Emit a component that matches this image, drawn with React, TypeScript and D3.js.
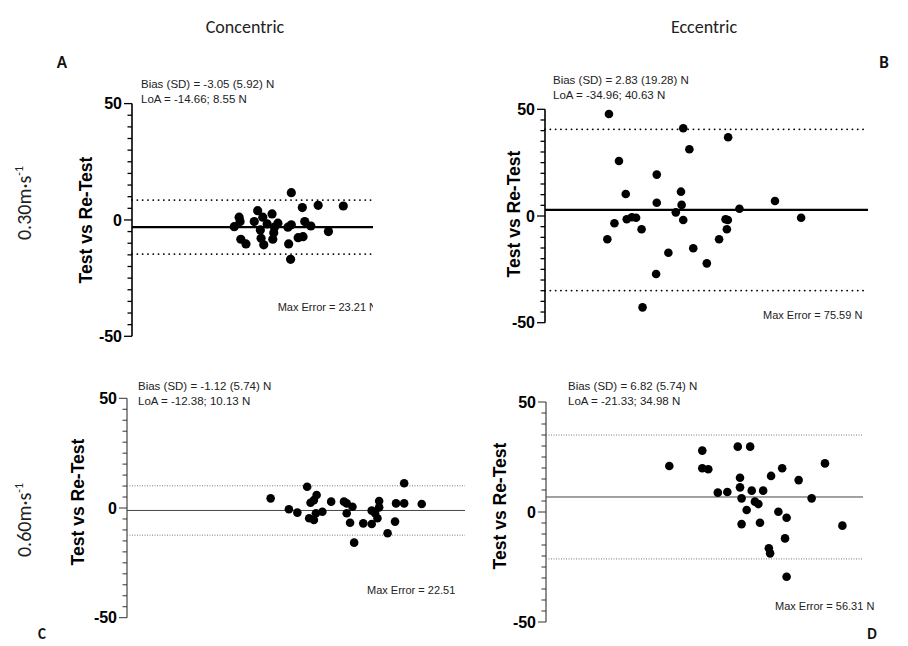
import React from "react";
import * as d3 from "d3";

// ---- Data (x: relative position 0-100 along the hidden x axis, y: difference in N) ----
const panelIds = ["A", "B", "C", "D"];
const biasValues = [-3.05, 2.83, -1.12, 6.82];
const loaLower = [-14.66, -34.96, -12.38, -21.33];
const loaUpper = [8.55, 40.63, 10.13, 34.98];
const biasTexts = [
  "Bias (SD) = -3.05 (5.92) N",
  "Bias (SD) = 2.83 (19.28) N",
  "Bias (SD) = -1.12 (5.74) N",
  "Bias (SD) = 6.82 (5.74) N",
];
const loaTexts = [
  "LoA = -14.66; 8.55 N",
  "LoA = -34.96; 40.63 N",
  "LoA = -12.38; 10.13 N",
  "LoA = -21.33; 34.98 N",
];
const maxErrorTexts = [
  "Max Error = 23.21 N",
  "Max Error = 75.59 N",
  "Max Error = 22.51",
  "Max Error = 56.31 N",
];
const yTickValues = [-50, 0, 50];
const columnTitles = ["Concentric", "Eccentric"];
const rowTitles = ["0.30m·s", "0.60m·s"];
const yAxisTitle = "Test vs Re-Test";

const pointsA: [number, number][] = [
  [65.3, 11.7], [69.8, 5.3], [76.3, 6.3], [86.6, 6.0], [43.9, 1.2], [51.5, 4.0],
  [57.4, 2.6], [53.6, 1.2], [50.1, -0.7], [41.9, -2.9], [44.3, -0.7], [59.8, -1.4],
  [58.4, -3.1], [65.3, -2.1], [63.9, -3.1], [70.8, -0.7], [73.3, -2.6], [80.5, -5.0],
  [52.6, -4.3], [58.1, -5.5], [52.9, -7.9], [57.7, -8.3], [70.1, -7.2], [68.1, -7.6],
  [44.6, -8.3], [46.7, -10.3], [54.0, -10.7], [64.2, -10.3], [65.0, -16.9], [55.4, -1.7],
];
const pointsB: [number, number][] = [
  [19.8, 47.8], [42.8, 41.1], [56.7, 36.9], [44.7, 31.3], [22.9, 25.8], [34.6, 19.4],
  [25.0, 10.3], [42.1, 11.4], [34.6, 6.2], [42.3, 5.2], [71.2, 7.0], [60.2, 3.4],
  [40.5, 1.7], [25.3, -1.5], [26.9, -0.6], [28.2, -0.8], [21.5, -3.4], [19.3, -10.9],
  [29.9, -6.2], [42.8, -1.9], [38.2, -17.2], [34.4, -27.2], [30.2, -42.8], [45.9, -15.1],
  [50.1, -22.2], [53.9, -10.9], [56.3, -6.2], [55.9, -1.5], [56.6, -1.9], [79.3, -0.8],
];
const pointsC: [number, number][] = [
  [42.5, 4.4], [47.9, -0.6], [50.4, -2.1], [53.3, 9.7], [56.1, 5.9], [55.3, 3.6],
  [54.3, 2.4], [53.9, -4.7], [55.3, -5.5], [55.9, -2.4], [57.8, -1.7], [60.4, 2.9],
  [64.2, 2.9], [65.0, 2.1], [66.7, 0.6], [65.0, -2.4], [66.0, -6.7], [67.2, -15.8],
  [69.9, -7.0], [72.4, -7.3], [72.4, -1.2], [73.4, -2.4], [74.1, -4.7], [74.6, 3.2],
  [74.6, 0.3], [77.1, -11.5], [79.3, -6.2], [79.6, 2.1], [82.0, 2.1], [82.0, 11.3],
  [87.2, 1.8],
];
const pointsD: [number, number][] = [
  [38.9, 20.9], [49.3, 27.9], [49.3, 19.9], [51.2, 19.4], [60.5, 29.7], [64.4, 29.7],
  [61.2, 15.6], [61.2, 11.2], [54.2, 8.8], [57.2, 9.1], [64.9, 9.7], [68.5, 9.7],
  [61.7, 6.2], [65.9, 4.7], [67.0, 3.6], [71.0, 16.4], [74.5, 19.9], [79.7, 14.5],
  [88.0, 22.1], [83.8, 6.2], [63.3, 0.9], [73.3, 0.1], [75.9, -2.6], [61.7, -5.5],
  [67.5, -4.9], [93.5, -6.2], [75.4, -12.0], [70.3, -16.5], [70.7, -18.8], [75.9, -29.4],
];
const allPoints = [pointsA, pointsB, pointsC, pointsD];

// ---- Layout ----
type Layout = {
  axisX: number; right: number; yTop: number; yBot: number; bold: boolean;
  textX: number; textY: number; maxX: number; maxY: number; maxAnchor: string;
  titleX: number; titleY: number; clipRight: number; r: number;
};
const layouts: Layout[] = [
  { axisX: 132, right: 376, yTop: 103.6, yBot: 336.3, bold: true, textX: 141, textY: 88,
    maxX: 377, maxY: 311, maxAnchor: "end", titleX: 86, titleY: 220, clipRight: 373, r: 4.6 },
  { axisX: 545, right: 868, yTop: 109.3, yBot: 322.7, bold: true, textX: 553, textY: 84,
    maxX: 763, maxY: 319, maxAnchor: "start", titleX: 514, titleY: 214, clipRight: 900, r: 4.3 },
  { axisX: 127, right: 465, yTop: 398.3, yBot: 617.7, bold: false, textX: 138, textY: 390,
    maxX: 367, maxY: 594, maxAnchor: "start", titleX: 78, titleY: 502, clipRight: 900, r: 4.3 },
  { axisX: 546, right: 863, yTop: 402, yBot: 622, bold: false, textX: 568, textY: 390,
    maxX: 775, maxY: 610, maxAnchor: "start", titleX: 500, titleY: 506, clipRight: 900, r: 4.3 },
];

const sans = "'Liberation Sans', Arial, sans-serif";
const titleFont = "Carlito, 'Noto Sans', 'Open Sans', sans-serif";

function Panel({ idx }: { idx: number }) {
  const L = layouts[idx];
  const x = d3.scaleLinear().domain([0, 100]).range([L.axisX, L.right]);
  const y = d3.scaleLinear().domain([-50, 50]).range([L.yBot, L.yTop]);
  const minorTicks = d3.range(-50, 51, 5);
  const axisColor = L.bold ? "#000" : "#333";
  const clipId = "clip" + panelIds[idx];
  return (
    <g>
      <defs>
        <clipPath id={clipId}>
          <rect x={0} y={0} width={L.clipRight} height={646} />
        </clipPath>
      </defs>
      <g clipPath={`url(#${clipId})`}>
        {/* axis */}
        <line x1={L.axisX} x2={L.axisX} y1={y(50)} y2={y(-50)} stroke={axisColor}
          strokeWidth={L.bold ? 1.6 : 1.1} />
        {minorTicks.map((t) => {
          const major = t % 50 === 0;
          return (
            <line key={t} x1={L.axisX - (major ? 8 : 4.5)} x2={L.axisX} y1={y(t)} y2={y(t)}
              stroke={axisColor} strokeWidth={L.bold ? 1.3 : 1} />
          );
        })}
        {yTickValues.map((t) => (
          <text key={t} x={L.axisX - 10} y={y(t)} dy="0.36em" textAnchor="end"
            fontFamily={sans} fontWeight="bold" fontSize={16} fill="#000">
            {t}
          </text>
        ))}
        {/* reference lines */}
        {L.bold ? (
          <>
            <line x1={L.axisX} x2={L.right} y1={y(loaUpper[idx])} y2={y(loaUpper[idx])}
              stroke="#000" strokeWidth={1.8} strokeDasharray="0.1,5.2" strokeLinecap="round" />
            <line x1={L.axisX} x2={L.right} y1={y(loaLower[idx])} y2={y(loaLower[idx])}
              stroke="#000" strokeWidth={1.8} strokeDasharray="0.1,5.2" strokeLinecap="round" />
            <line x1={L.axisX} x2={L.right} y1={y(biasValues[idx])} y2={y(biasValues[idx])}
              stroke="#000" strokeWidth={2.2} />
          </>
        ) : (
          <>
            <line x1={L.axisX} x2={L.right} y1={y(loaUpper[idx])} y2={y(loaUpper[idx])}
              stroke="#777" strokeWidth={1} strokeDasharray="1,1.5" />
            <line x1={L.axisX} x2={L.right} y1={y(loaLower[idx])} y2={y(loaLower[idx])}
              stroke="#777" strokeWidth={1} strokeDasharray="1,1.5" />
            <line x1={L.axisX} x2={L.right} y1={y(biasValues[idx])} y2={y(biasValues[idx])}
              stroke="#444" strokeWidth={1} />
          </>
        )}
        {/* points */}
        {allPoints[idx].map((p, i) => (
          <circle key={i} cx={x(p[0])} cy={y(p[1])} r={L.r} fill="#000" />
        ))}
        {/* annotations */}
        <text x={L.textX} y={L.textY} fontFamily={sans} fontSize={11.5} fill="#222">
          {biasTexts[idx]}
        </text>
        <text x={L.textX} y={L.textY + 15} fontFamily={sans} fontSize={11.5} fill="#222">
          {loaTexts[idx]}
        </text>
        <text x={L.maxX} y={L.maxY} textAnchor={L.maxAnchor as any} fontFamily={sans}
          fontSize={11} fill="#222">
          {maxErrorTexts[idx]}
        </text>
        <text transform={`translate(${L.titleX},${L.titleY}) rotate(-90)`} textAnchor="middle"
          dy="0.36em" fontFamily={sans} fontWeight="bold" fontSize={17.5} fill="#000">
          {yAxisTitle}
        </text>
      </g>
    </g>
  );
}

export default function App() {
  return (
    <svg width={908} height={646} style={{ position: "absolute", left: 0, top: 0, background: "#fff" }}>
      <rect width={908} height={646} fill="#fff" />
      <text x={245} y={33} textAnchor="middle" fontFamily={titleFont} fontSize={18} fill="#222">
        {columnTitles[0]}
      </text>
      <text x={704} y={33} textAnchor="middle" fontFamily={titleFont} fontSize={18} fill="#222">
        {columnTitles[1]}
      </text>
      {rowTitles.map((t, i) => (
        <text key={t} transform={`translate(31,${i === 0 ? 203 : 520}) rotate(-90)`}
          textAnchor="middle" fontFamily={titleFont} fontSize={20} fill="#222">
          {t}
          <tspan dy={-8} fontSize={12}>-1</tspan>
        </text>
      ))}
      <text x={62} y={68} textAnchor="middle" fontFamily={titleFont} fontWeight="bold" fontSize={17} fill="#111">A</text>
      <text x={884} y={68} textAnchor="middle" fontFamily={titleFont} fontWeight="bold" fontSize={17} fill="#111">B</text>
      <text x={42} y={639} textAnchor="middle" fontFamily={titleFont} fontWeight="bold" fontSize={15} fill="#111">C</text>
      <text x={872} y={639} textAnchor="middle" fontFamily={titleFont} fontWeight="bold" fontSize={15} fill="#111">D</text>
      {panelIds.map((id, i) => (
        <Panel key={id} idx={i} />
      ))}
    </svg>
  );
}
